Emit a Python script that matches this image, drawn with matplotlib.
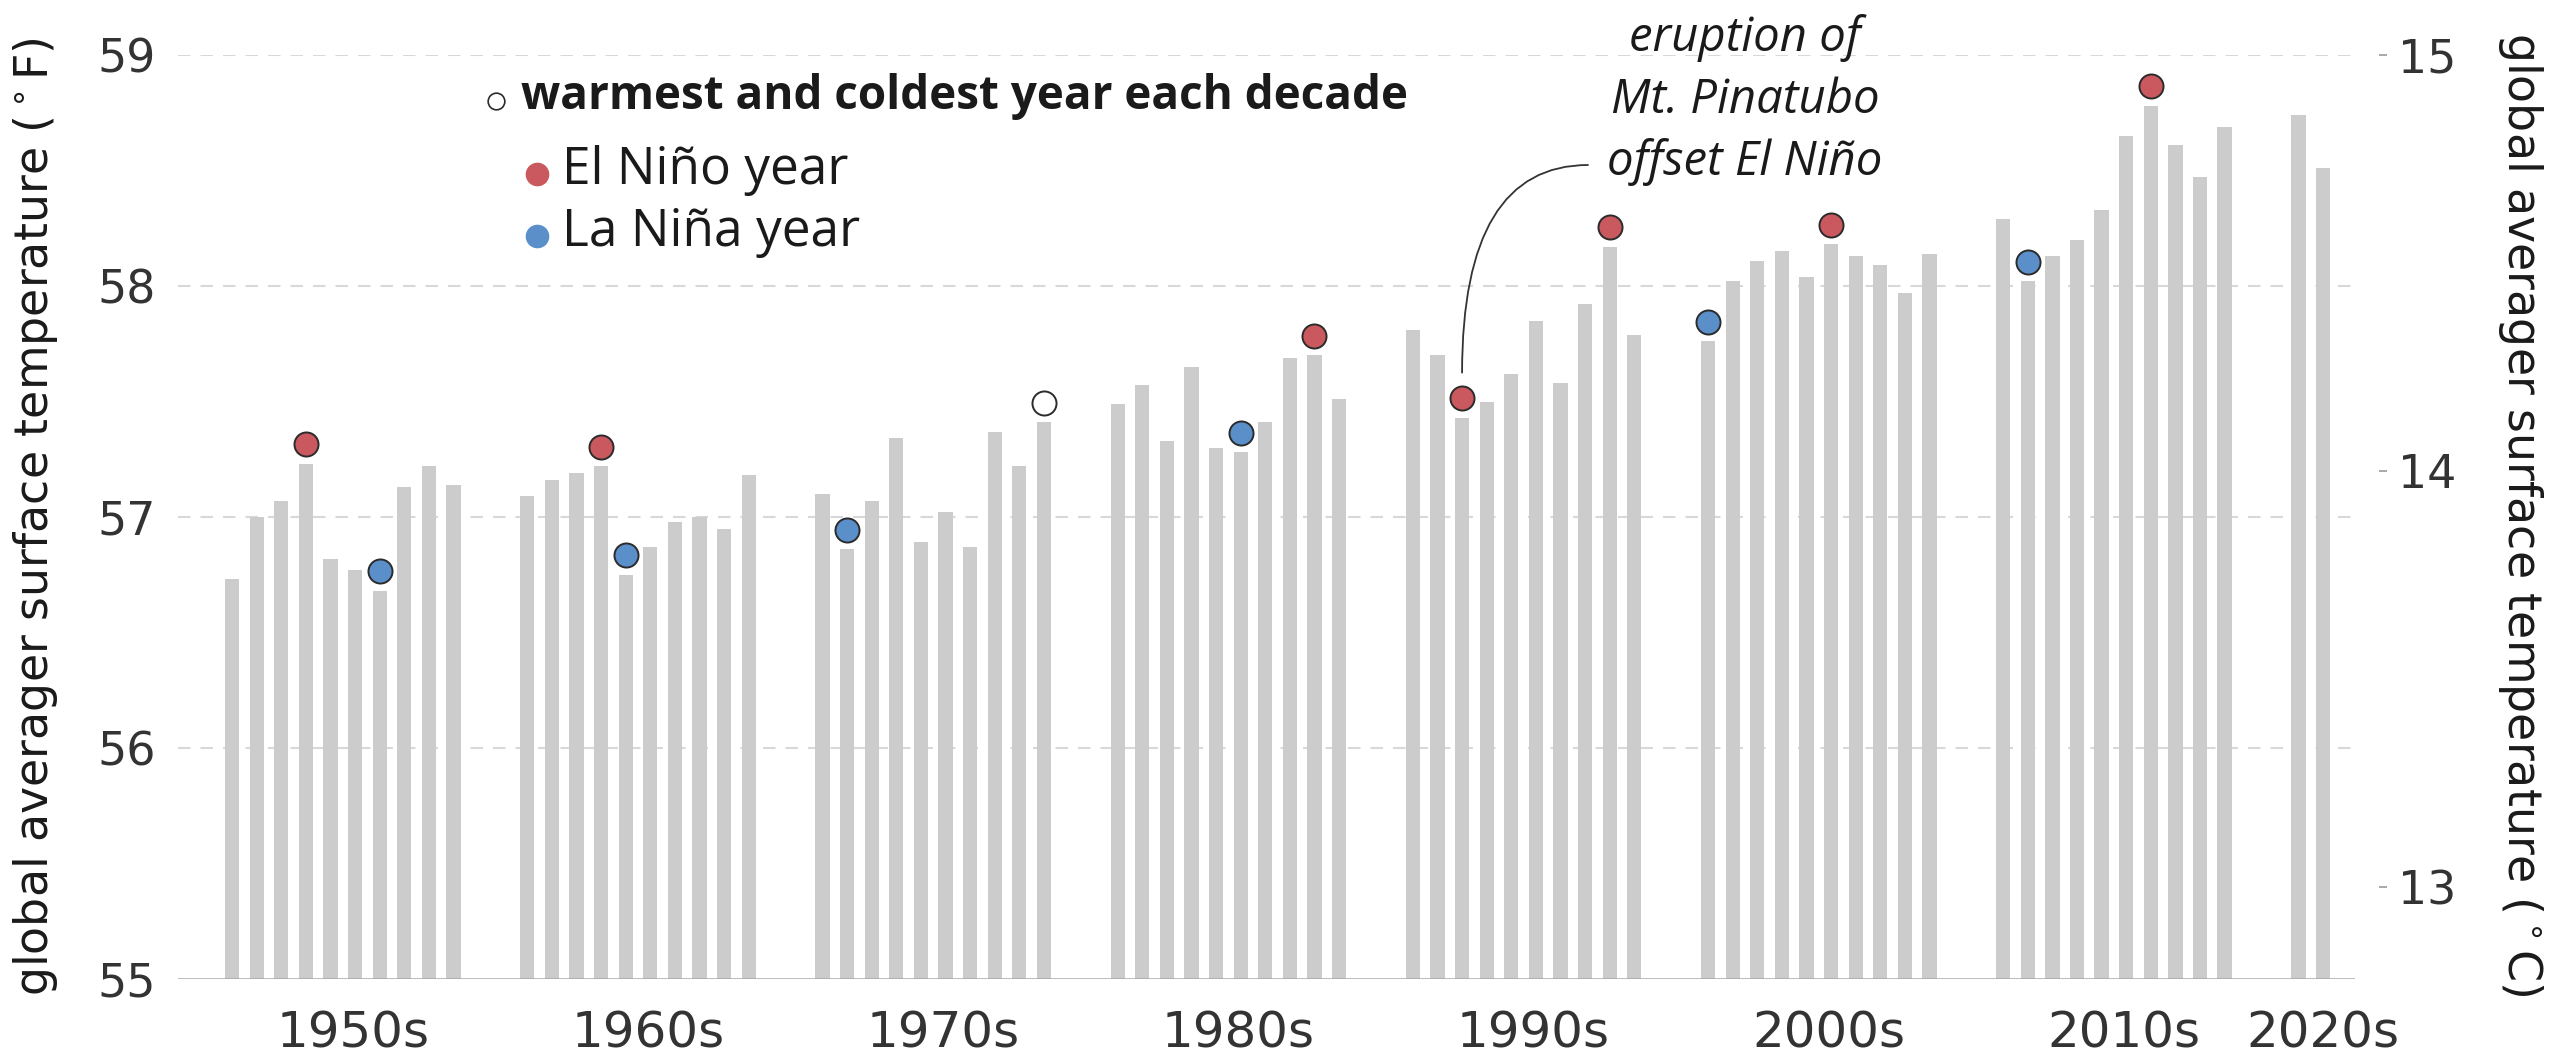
import matplotlib
matplotlib.use("Agg")
import matplotlib.pyplot as plt
import numpy as np

# annual global average surface temperature, degrees F
years = list(range(1950, 2022))
temps_f = [
    56.73, 57.00, 57.07, 57.23, 56.82, 56.77, 56.68, 57.13, 57.22, 57.14,  # 1950s
    57.09, 57.16, 57.19, 57.22, 56.75, 56.87, 56.98, 57.00, 56.95, 57.18,  # 1960s
    57.10, 56.86, 57.07, 57.34, 56.89, 57.02, 56.87, 57.37, 57.22, 57.41,  # 1970s
    57.49, 57.57, 57.33, 57.65, 57.30, 57.28, 57.41, 57.69, 57.70, 57.51,  # 1980s
    57.81, 57.70, 57.43, 57.50, 57.62, 57.85, 57.58, 57.92, 58.17, 57.79,  # 1990s
    57.76, 58.02, 58.11, 58.15, 58.04, 58.18, 58.13, 58.09, 57.97, 58.14,  # 2000s
    58.29, 58.02, 58.13, 58.20, 58.33, 58.65, 58.78, 58.61, 58.47, 58.69,  # 2010s
    58.74, 58.51,                                                          # 2020s
]
decade_labels = ["1950s", "1960s", "1970s", "1980s", "1990s", "2000s", "2010s", "2020s"]

# warmest / coldest year of each decade, split by ENSO phase
el_nino_years = [1953, 1963, 1988, 1992, 1998, 2005, 2016]
la_nina_years = [1956, 1964, 1971, 1985, 2000, 2011]
neutral_years = [1979]

pinatubo_year = 1992

BAR = "#cccccc"
RED = "#c9595e"
BLUE = "#5b8fca"
EDGE = "#2b2b2b"
TXT = "#1a1a1a"
TICK_FONT = ["Liberation Sans Narrow", "DejaVu Sans"]


def slot(year):
    # 10 bars per decade plus two empty slots between decades
    return (year // 10 - 195) * 12 + year % 10


x = np.array([slot(y) for y in years])
vals = dict(zip(years, temps_f))

fig = plt.figure(figsize=(25.52, 10.62), dpi=100)
ax = fig.add_axes([178 / 2552, 1 - 979 / 1062, (2355 - 178) / 2552, (979 - 55) / 1062])

ax.bar(x, np.array(temps_f) - 55, bottom=55, width=0.58, color=BAR, zorder=2)

# markers sit just above the bar top
nudge = 0.085
for yrs, fc in [(el_nino_years, RED), (la_nina_years, BLUE), (neutral_years, "white")]:
    ax.scatter([slot(y) for y in yrs], [vals[y] + nudge for y in yrs], s=300,
               facecolor=fc, edgecolor=EDGE, linewidth=1.4, zorder=4, clip_on=False)

ax.set_xlim(-2.2, 86.3)
ax.set_ylim(55, 59)

# dashed grid and solid baseline
for v in [56, 57, 58, 59]:
    ax.axhline(v, color="#d8d8d8", lw=1.5, dashes=(6, 4.8), zorder=1)
ax.axhline(55, color="#a8a8a8", lw=1.8, zorder=3)

for s in ax.spines.values():
    s.set_visible(False)

ax.set_yticks([55, 56, 57, 58, 59])
ax.tick_params(axis="y", length=0, pad=16, labelsize=33, labelcolor="#333333")
for t in ax.get_yticklabels():
    t.set_family(TICK_FONT)

# decade labels roughly mid-decade (last bar for an incomplete decade)
tick_pos = []
for i, lab in enumerate(decade_labels):
    in_dec = [slot(y) for y in years if (y // 10 - 195) == i]
    tick_pos.append(min(in_dec[0] + 4.9, in_dec[-1]))
ax.set_xticks(tick_pos)
ax.set_xticklabels(decade_labels)
ax.tick_params(axis="x", length=0, pad=22, labelsize=36, labelcolor="#333333")
for t in ax.get_xticklabels():
    t.set_family(TICK_FONT)

# Celsius axis on the right
ax2 = ax.twinx()
ax2.set_ylim((55 - 32) * 5 / 9, (59 - 32) * 5 / 9)
ax2.set_yticks([13, 14, 15])
for s in ax2.spines.values():
    s.set_visible(False)
ax2.spines["right"].set_position(("outward", 17))
ax2.tick_params(axis="y", direction="out", length=6, width=1.2, color="#999999",
                pad=8, labelsize=33, labelcolor="#333333")
for t in ax2.get_yticklabels():
    t.set_family(TICK_FONT)

fig.text(36 / 2552, 1 - 517 / 1062, r"global averager surface temperature ($^\circ$F)",
         rotation=90, ha="center", va="center", fontsize=33, color=TXT)
fig.text(2521 / 2552, 1 - 514 / 1062, r"global averager surface temperature ($^\circ$C)",
         rotation=-90, ha="center", va="center", fontsize=33, color=TXT)

# legend drawn by hand
fx = lambda px: px / 2552
fy = lambda py: 1 - py / 1062
fig.add_artist(plt.Line2D([fx(496)], [fy(101)], marker="o", ms=12, mfc="white",
                          mec=EDGE, mew=1.2, ls=""))
fig.text(fx(521), fy(96), "warmest and coldest year each decade", ha="left", va="center",
         fontsize=33, fontweight="bold", family="Open Sans", color=TXT)
fig.add_artist(plt.Line2D([fx(537)], [fy(174)], marker="o", ms=16, mfc=RED, mec=RED, ls=""))
fig.text(fx(562), fy(170), "El Niño year", ha="left", va="center",
         fontsize=37, family="Open Sans", color=TXT)
fig.add_artist(plt.Line2D([fx(537)], [fy(236)], marker="o", ms=16, mfc=BLUE, mec=BLUE, ls=""))
fig.text(fx(562), fy(232), "La Niña year", ha="left", va="center",
         fontsize=37, family="Open Sans", color=TXT)

# Pinatubo note
fig.text(fx(1745), fy(100), "eruption of\nMt. Pinatubo\noffset El Niño", ha="center",
         va="center", fontsize=34, style="italic", family="Open Sans", color=TXT,
         linespacing=1.4)
ax.annotate("", xy=(slot(pinatubo_year), vals[pinatubo_year] + nudge + 0.11),
            xytext=(fx(1588), fy(165)), textcoords="figure fraction",
            arrowprops=dict(arrowstyle="-", color="#333333", lw=1.3,
                            connectionstyle="angle3,angleA=0,angleB=90",
                            shrinkA=0, shrinkB=0))

fig.savefig("out.png", dpi=100, facecolor="white")
